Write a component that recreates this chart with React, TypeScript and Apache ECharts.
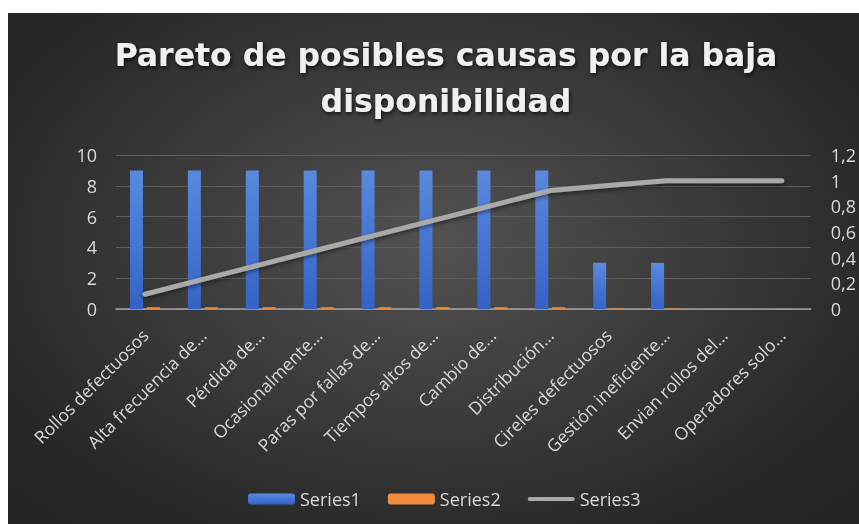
import React, { useEffect, useRef } from "react";
import * as echarts from "echarts";

const categories = [
  "Rollos defectuosos",
  "Alta frecuencia de…",
  "Pérdida de…",
  "Ocasionalmente…",
  "Paras por fallas de…",
  "Tiempos altos de…",
  "Cambio de…",
  "Distribución…",
  "Cireles defectuosos",
  "Gestión ineficiente…",
  "Envian rollos del…",
  "Operadores solo…",
];
const series1 = [9, 9, 9, 9, 9, 9, 9, 9, 3, 3, 0, 0];
const series2 = [0.115, 0.115, 0.115, 0.115, 0.115, 0.115, 0.115, 0.115, 0.038, 0.038, 0, 0];
const series3 = [0.115, 0.231, 0.346, 0.462, 0.577, 0.692, 0.808, 0.923, 0.962, 1, 1, 1];
const seriesNames = ["Series1", "Series2", "Series3"];
const titleText = "Pareto de posibles causas por la baja\ndisponibilidad";

const labelColor = "#d9d9d9";
const font = "'Open Sans', sans-serif";
const lineColor = "#a9a9a9";

export default function App() {
  const ref = useRef<HTMLDivElement>(null);
  useEffect(() => {
    if (!ref.current) return;
    const chart = echarts.init(ref.current, undefined, { renderer: "svg" });
    chart.setOption({
      animation: false,
      backgroundColor: "transparent",
      title: {
        text: titleText,
        left: 433,
        textAlign: "center",
        top: 14,
        textStyle: {
          color: "#f0f0f0",
          fontFamily: "'DejaVu Sans', sans-serif",
          fontWeight: "bold",
          fontSize: 31.5,
          lineHeight: 46,
          textShadowColor: "rgba(0,0,0,0.75)",
          textShadowBlur: 4,
          textShadowOffsetX: 1,
          textShadowOffsetY: 2,
        },
      },
      legend: {
        data: [
          { name: seriesNames[0] },
          { name: seriesNames[1] },
          {
            name: seriesNames[2],
            icon: "path://M2,0H45A2,2 0 0 1 45,4H2A2,2 0 0 1 2,0Z",
            itemStyle: { color: lineColor, borderWidth: 0 },
          },
        ],
        left: 235,
        top: 472,
        itemWidth: 47,
        itemHeight: 11,
        itemGap: 27,
        textStyle: { color: labelColor, fontFamily: font, fontSize: 18 },
      },
      grid: { left: 108, right: 46, top: 142, bottom: 215, containLabel: false },
      xAxis: {
        type: "category",
        data: categories,
        axisTick: { show: false },
        axisLine: { lineStyle: { color: "#a6a6a6", width: 1.5 } },
        axisLabel: {
          rotate: 45,
          interval: 0,
          margin: 23,
          color: labelColor,
          fontFamily: font,
          fontSize: 17.5,
        },
      },
      yAxis: [
        {
          type: "value",
          min: 0,
          max: 10,
          interval: 2,
          axisLine: { show: false },
          axisTick: { show: false },
          splitLine: { lineStyle: { color: "#5e5e5e", width: 1 } },
          axisLabel: { color: labelColor, fontFamily: font, fontSize: 18, margin: 19 },
        },
        {
          type: "value",
          min: 0,
          max: 1.2,
          interval: 0.2,
          axisLine: { show: false },
          axisTick: { show: false },
          splitLine: { show: false },
          axisLabel: {
            color: labelColor,
            fontFamily: font,
            fontSize: 18,
            margin: 20,
            formatter: (v: number) => String(Number(v.toFixed(1))).replace(".", ","),
          },
        },
      ],
      series: [
        {
          name: seriesNames[0],
          type: "bar",
          data: series1,
          barWidth: 13,
          barGap: "30%",
          itemStyle: {
            color: new echarts.graphic.LinearGradient(0, 0, 0, 1, [
              { offset: 0, color: "#5a89df" },
              { offset: 1, color: "#3463c6" },
            ]),
          },
        },
        {
          name: seriesNames[1],
          type: "bar",
          data: series2,
          barWidth: 13,
          itemStyle: { color: "#f08a3c" },
        },
        {
          name: seriesNames[2],
          type: "line",
          yAxisIndex: 1,
          data: series3,
          symbol: "none",
          lineStyle: {
            color: lineColor,
            width: 5,
            cap: "round",
            join: "round",
            shadowColor: "rgba(0,0,0,0.5)",
            shadowBlur: 4,
            shadowOffsetY: 2,
          },
          itemStyle: { color: lineColor },
        },
      ],
    });
    return () => chart.dispose();
  }, []);
  return (
    <div
      ref={ref}
      style={{
        position: "fixed",
        left: 8,
        top: 13,
        width: 851,
        height: 511,
        background:
          "radial-gradient(ellipse farthest-corner at 50% 45%, #525252 0%, #3a3a3a 45%, #272727 80%, #232323 100%)",
      }}
    />
  );
}
